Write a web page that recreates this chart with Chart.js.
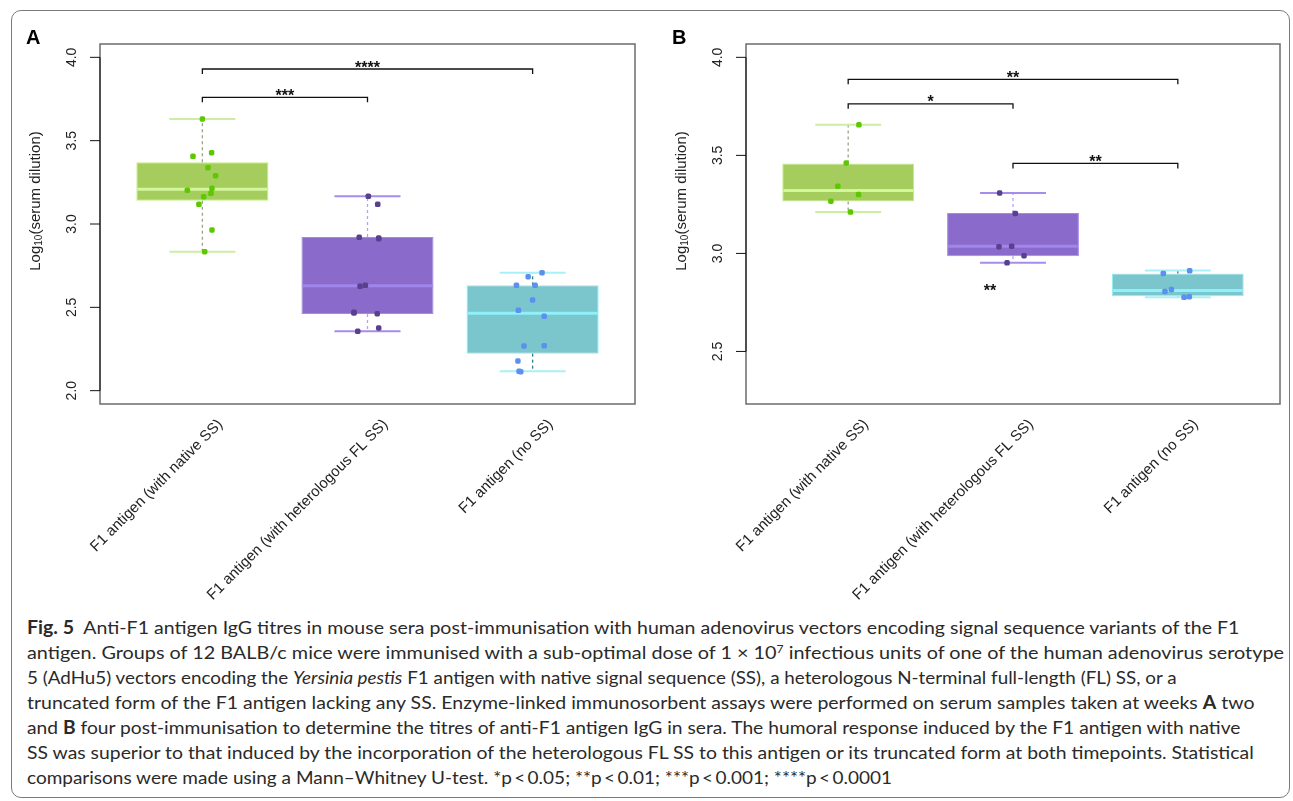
<!DOCTYPE html>
<html>
<head>
<meta charset="utf-8">
<title>Fig. 5 – Anti-F1 IgG titres</title>
<script src="https://cdn.jsdelivr.net/npm/chart.js@4.4.1/dist/chart.umd.min.js"></script>
<style>
  html, body { margin: 0; padding: 0; background: #fff; }
  body { width: 1293px; height: 801px; position: relative; overflow: hidden; }
  #frame {
    position: absolute; left: 11px; top: 10px; width: 1279px; height: 788px;
    border: 1.5px solid #7b7b7b; border-radius: 10px; box-sizing: border-box;
  }
  #panelA { position: absolute; left: 0; top: 0; }
  #panelB { position: absolute; left: 645px; top: 0; }
  #caption {
    position: absolute; left: 27px; top: 615px;
    font-family: Lato, "Open Sans", sans-serif; font-size: 18px; line-height: 25px;
    color: #2a2a2a;
  }
  #caption div { white-space: nowrap; height: 25px; }
  #caption span.line { display: inline-block; transform-origin: 0 50%; }
  #caption sup { font-size: 11px; line-height: 0; vertical-align: 6px; }
</style>
</head>
<body>
<div id="frame"></div>
<canvas id="panelA" width="645" height="605" style="width:645px;height:605px"></canvas>
<canvas id="panelB" width="648" height="605" style="width:648px;height:605px"></canvas>
<div id="caption">
  <div><span class="line"><b>Fig. 5</b>&nbsp;&nbsp;Anti-F1 antigen IgG titres in mouse sera post-immunisation with human adenovirus vectors encoding signal sequence variants of the F1</span></div>
  <div><span class="line">antigen. Groups of 12 BALB/c mice were immunised with a sub-optimal dose of 1 × 10<sup>7</sup> infectious units of one of the human adenovirus serotype</span></div>
  <div><span class="line">5 (AdHu5) vectors encoding the <i>Yersinia pestis</i> F1 antigen with native signal sequence (SS), a heterologous N-terminal full-length (FL) SS, or a</span></div>
  <div><span class="line">truncated form of the F1 antigen lacking any SS. Enzyme-linked immunosorbent assays were performed on serum samples taken at weeks <b>A</b> two</span></div>
  <div><span class="line">and <b>B</b> four post-immunisation to determine the titres of anti-F1 antigen IgG in sera. The humoral response induced by the F1 antigen with native</span></div>
  <div><span class="line">SS was superior to that induced by the incorporation of the heterologous FL SS to this antigen or its truncated form at both timepoints. Statistical</span></div>
  <div><span class="line">comparisons were made using a Mann–Whitney U-test. *p&thinsp;&lt;&thinsp;0.05; **p&thinsp;&lt;&thinsp;0.01; ***p&thinsp;&lt;&thinsp;0.001; ****p&thinsp;&lt;&thinsp;0.0001</span></div>
</div>

<script>
// -----------------------------
// Data
// -----------------------------
const groupLabels = ['F1 antigen (with native SS)', 'F1 antigen (with heterologous FL SS)', 'F1 antigen (no SS)'];

// Panel A (week 2)
const aTicks = [2.0, 2.5, 3.0, 3.5, 4.0];
const aQ1 = [3.14, 2.46, 2.222];
const aMedian = [3.208, 2.63, 2.464];
const aQ3 = [3.37, 2.922, 2.632];
const aWhiskerLow = [2.834, 2.356, 2.116];
const aWhiskerHigh = [3.63, 3.166, 2.708];
const aNative = [3.63, 3.406, 3.428, 3.338, 3.29, 3.202, 3.214, 3.184, 3.164, 3.118, 2.964, 2.834];
const aNativeJitter = [0.0, -0.057, 0.056, 0.034, 0.08, -0.091, 0.058, 0.052, 0.008, -0.021, 0.058, 0.014];
const aHetero = [3.166, 3.118, 2.92, 2.916, 2.912, 2.626, 2.632, 2.47, 2.466, 2.462, 2.376, 2.356];
const aHeteroJitter = [0.005, 0.062, -0.05, 0.068, 0.068, -0.045, -0.013, -0.082, -0.082, 0.059, 0.068, -0.059];
const aNoSS = [2.708, 2.684, 2.632, 2.632, 2.544, 2.482, 2.446, 2.268, 2.27, 2.178, 2.116, 2.114];
const aNoSSJitter = [0.057, -0.027, -0.098, 0.015, 0.0, -0.086, 0.07, -0.052, 0.07, -0.089, -0.082, -0.072];
const aBrackets = [
    { from: 1, to: 3, y: 3.93, label: '****' },
    { from: 1, to: 2, y: 3.76, label: '***' }
];

// Panel B (week 4)
const bTicks = [2.5, 3.0, 3.5, 4.0];
const bQ1 = [3.265, 2.986, 2.781];
const bMedian = [3.321, 3.036, 2.811];
const bQ3 = [3.459, 3.206, 2.898];
const bWhiskerLow = [3.211, 2.952, 2.776];
const bWhiskerHigh = [3.656, 3.308, 2.913];
const bNative = [3.656, 3.461, 3.343, 3.30, 3.266, 3.211];
const bNativeJitter = [0.065, -0.012, -0.063, 0.063, -0.105, 0.014];
const bHetero = [3.308, 3.204, 3.034, 3.037, 2.988, 2.952];
const bHeteroJitter = [-0.081, 0.014, -0.085, -0.008, 0.067, -0.036];
const bNoSS = [2.898, 2.911, 2.806, 2.816, 2.776, 2.779];
const bNoSSJitter = [-0.088, 0.072, -0.078, -0.039, 0.038, 0.07];
const bBrackets = [
    { from: 1, to: 3, y: 3.888, label: '**' },
    { from: 1, to: 2, y: 3.763, label: '*' },
    { from: 2, to: 3, y: 3.459, label: '**' }
];
const bNotes = [{ x: 1.86, y: 2.83, label: '**' }];

// -----------------------------
// Styles
// -----------------------------
const boxFill = ['#a4cd5e', '#8a6bcc', '#7bc5cd'];
const boxEdge = ['#c4ee88', '#a48ae6', '#8eeef6'];
const medianColor = ['#d3f59b', '#a085ea', '#8ff0f8'];
const capColor = ['#cdeea2', '#a68cec', '#a8f0f6'];
const whiskerColor = ['#98a484', '#b7a1f5', '#2f7f7f'];
const pointColor = ['#5cc900', '#5a3f8e', '#5b8ff0'];
const FONT = '"Liberation Sans", Arial, Helvetica, sans-serif';

// measured line widths of the printed caption (px)
const captionLineWidths = [1213, 1257, 1150, 1227, 1213, 1227, 865];

function seg(ctx, x1, y1, x2, y2) {
    ctx.beginPath();
    ctx.moveTo(x1, y1);
    ctx.lineTo(x2, y2);
    ctx.stroke();
}

// -----------------------------
// Plugin: R-like boxplot decorations, axes and annotations
// -----------------------------
function rDecor(p) {
    return {
        id: 'rDecor',
        afterDatasetDraw(chart, args) {
            if (args.index !== 0) return;
            const ctx = chart.ctx, xs = chart.scales.x, ys = chart.scales.y;
            args.meta.data.forEach((bar, i) => {
                const cx = bar.x;
                const hi = ys.getPixelForValue(p.hi[i]), lo = ys.getPixelForValue(p.lo[i]);
                ctx.save();
                ctx.strokeStyle = whiskerColor[i];
                ctx.lineWidth = 1.3;
                ctx.setLineDash([3, 3]);
                seg(ctx, cx, ys.getPixelForValue(p.q3[i]), cx, hi);
                seg(ctx, cx, ys.getPixelForValue(p.q1[i]), cx, lo);
                ctx.setLineDash([]);
                ctx.strokeStyle = capColor[i];
                ctx.lineWidth = 2;
                const c0 = xs.getPixelForValue(i + 1 - 0.2), c1 = xs.getPixelForValue(i + 1 + 0.2);
                seg(ctx, c0, hi, c1, hi);
                seg(ctx, c0, lo, c1, lo);
                ctx.strokeStyle = medianColor[i];
                ctx.lineWidth = 3;
                const m = ys.getPixelForValue(p.median[i]);
                seg(ctx, bar.x - bar.width / 2 + 1, m, bar.x + bar.width / 2 - 1, m);
                ctx.restore();
            });
        },
        afterDraw(chart) {
            const ctx = chart.ctx, xs = chart.scales.x, ys = chart.scales.y;
            const area = chart.chartArea;
            ctx.save();

            // plot box
            ctx.strokeStyle = '#6c6c6c';
            ctx.lineWidth = 1.5;
            ctx.strokeRect(area.left, area.top, area.right - area.left, area.bottom - area.top);

            // y axis
            ctx.strokeStyle = '#111';
            ctx.lineWidth = 1;
            const tTop = ys.getPixelForValue(p.ticks[p.ticks.length - 1]);
            const tBot = ys.getPixelForValue(p.ticks[0]);
            seg(ctx, area.left, tTop, area.left, tBot);
            ctx.fillStyle = '#222';
            ctx.font = '14px ' + FONT;
            ctx.textAlign = 'center';
            ctx.textBaseline = 'middle';
            p.ticks.forEach(t => {
                const y = ys.getPixelForValue(t);
                seg(ctx, area.left - 10, y, area.left, y);
                ctx.save();
                ctx.translate(area.left - 28, y);
                ctx.rotate(-Math.PI / 2);
                ctx.fillText(t.toFixed(1), 0, 0);
                ctx.restore();
            });

            // y title with subscript
            ctx.save();
            ctx.translate(area.left - 64, area.top + 157);
            ctx.rotate(-Math.PI / 2);
            const big = '15px ' + FONT, small = '10px ' + FONT;
            ctx.font = big;
            const w1 = ctx.measureText('Log').width, w3 = ctx.measureText('(serum dilution)').width;
            ctx.font = small;
            const w2 = ctx.measureText('10').width;
            let cx = -(w1 + w2 + w3) / 2;
            ctx.textAlign = 'left';
            ctx.font = big; ctx.fillText('Log', cx, 0); cx += w1;
            ctx.font = small; ctx.fillText('10', cx, 3); cx += w2;
            ctx.font = big; ctx.fillText('(serum dilution)', cx, 0);
            ctx.restore();

            // x labels, rotated 45°
            ctx.font = '15px ' + FONT;
            ctx.textAlign = 'right';
            ctx.textBaseline = 'middle';
            groupLabels.forEach((lab, i) => {
                ctx.save();
                ctx.translate(xs.getPixelForValue(i + 1) + 18, area.bottom + 18);
                ctx.rotate(-Math.PI / 4);
                ctx.fillText(lab, 0, 0);
                ctx.restore();
            });

            // significance brackets
            ctx.strokeStyle = '#111';
            ctx.lineWidth = 1.3;
            ctx.fillStyle = '#111';
            ctx.font = 'bold 16px ' + FONT;
            ctx.textAlign = 'center';
            ctx.textBaseline = 'alphabetic';
            p.brackets.forEach(b => {
                const x1 = xs.getPixelForValue(b.from), x2 = xs.getPixelForValue(b.to);
                const y = ys.getPixelForValue(b.y);
                ctx.beginPath();
                ctx.moveTo(x1, y + 5);
                ctx.lineTo(x1, y);
                ctx.lineTo(x2, y);
                ctx.lineTo(x2, y + 5);
                ctx.stroke();
                ctx.fillText(b.label, (x1 + x2) / 2, y + 3.5);
            });
            (p.notes || []).forEach(n => {
                ctx.fillText(n.label, xs.getPixelForValue(n.x), ys.getPixelForValue(n.y) + 9.5);
            });

            // panel letter
            ctx.font = 'bold 20px ' + FONT;
            ctx.textAlign = 'left';
            ctx.fillStyle = '#000';
            ctx.fillText(p.letter, p.letterX, 44);
            ctx.restore();
        }
    };
}

// -----------------------------
// Build one boxplot panel
// -----------------------------
function buildPanel(canvasId, p) {
    const boxes = groupLabels.map((g, i) => ({ x: i + 1, y: [p.q1[i], p.q3[i]] }));
    const pointSets = p.points.map((vals, g) => ({
        type: 'scatter',
        order: 1,
        data: vals.map((v, k) => ({ x: g + 1 + p.jitter[g][k], y: v })),
        pointStyle: 'rectRounded',
        pointRadius: 3.2,
        pointBackgroundColor: pointColor[g],
        pointBorderColor: pointColor[g],
        pointBorderWidth: 0
    }));

    return new Chart(document.getElementById(canvasId), {
        type: 'bar',
        data: {
            datasets: [{
                type: 'bar',
                order: 2,
                data: boxes,
                backgroundColor: boxFill,
                borderColor: boxEdge,
                borderWidth: 1,
                borderSkipped: false,
                categoryPercentage: 0.8,
                barPercentage: 1.0
            }, ...pointSets]
        },
        options: {
            responsive: false,
            animation: false,
            events: [],
            layout: { padding: p.padding },
            plugins: { legend: { display: false }, tooltip: { enabled: false } },
            scales: {
                x: { type: 'linear', display: false, offset: false, min: 0.38, max: 3.62, ticks: { stepSize: 1, includeBounds: false } },
                y: { type: 'linear', display: false, min: p.yMin, max: p.yMax }
            }
        },
        plugins: [rDecor(p)]
    });
}

buildPanel('panelA', {
    letter: 'A', letterX: 26,
    padding: { left: 100, top: 44, right: 10, bottom: 201 },
    yMin: 1.92, yMax: 4.08, ticks: aTicks,
    q1: aQ1, median: aMedian, q3: aQ3, lo: aWhiskerLow, hi: aWhiskerHigh,
    points: [aNative, aHetero, aNoSS],
    jitter: [aNativeJitter, aHeteroJitter, aNoSSJitter],
    brackets: aBrackets
});

buildPanel('panelB', {
    letter: 'B', letterX: 27,
    padding: { left: 101, top: 44, right: 13, bottom: 201 },
    yMin: 2.232, yMax: 4.068, ticks: bTicks,
    q1: bQ1, median: bMedian, q3: bQ3, lo: bWhiskerLow, hi: bWhiskerHigh,
    points: [bNative, bHetero, bNoSS],
    jitter: [bNativeJitter, bHeteroJitter, bNoSSJitter],
    brackets: bBrackets,
    notes: bNotes
});

// squeeze each caption line to the width it has in the original
function fitCaption() {
    document.querySelectorAll('#caption span.line').forEach((span, i) => {
        const w = span.offsetWidth;   // untransformed width
        if (w > 0) span.style.transform = 'scaleX(' + (captionLineWidths[i] / w) + ')';
    });
}
fitCaption();
if (document.fonts && document.fonts.ready) document.fonts.ready.then(fitCaption);
</script>
</body>
</html>
